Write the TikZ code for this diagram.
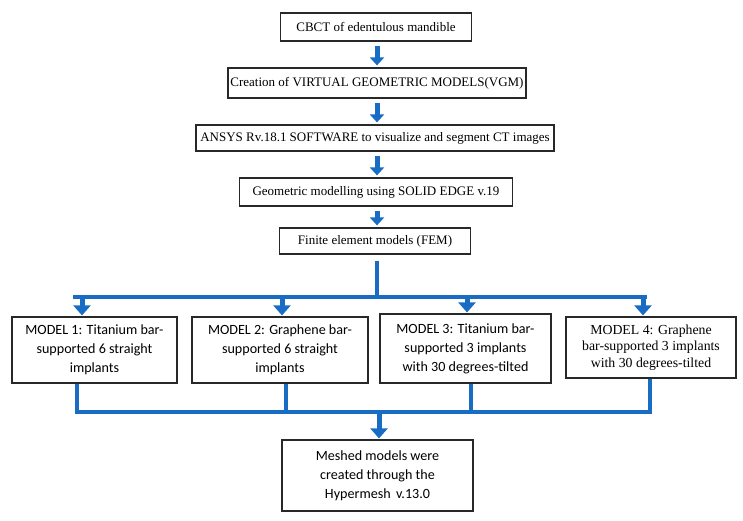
\documentclass[tikz,border=0pt]{standalone}
\usepackage{fontspec}
\setmainfont{Liberation Serif}
\newfontfamily\carlfont{Carlito}
\usetikzlibrary{arrows.meta}
\definecolor{flowblue}{RGB}{24,108,196}
\definecolor{boxline}{RGB}{40,40,40}
\tikzset{
  topbox/.style={draw=boxline, line width=1.2pt, inner sep=0pt, align=center, font=\fontsize{13}{15}\selectfont},
  modelbox/.style={draw=boxline, line width=1.2pt, inner sep=0pt, align=center, font=\carlfont\fontsize{14.1}{19}\selectfont},
  bluearrow/.style={draw=flowblue, line width=5pt, -{Triangle[width=14pt,length=8pt]}},
  bigarrow/.style={draw=flowblue, line width=5pt, -{Triangle[width=17pt,length=10pt]}},
  bus/.style={draw=flowblue, line width=4.5pt}
}
\begin{document}
\begin{tikzpicture}[x=1pt,y=-1pt]
\useasboundingbox (0,0) rectangle (743,520);
% top chain
\node[topbox, minimum width=191pt, minimum height=28pt] (b1) at (376,27) {CBCT of edentulous mandible};
\node[topbox, minimum width=298pt, minimum height=30pt] (b2) at (377,83) {Creation of VIRTUAL GEOMETRIC MODELS(VGM)};
\node[topbox, minimum width=358pt, minimum height=26pt] (b3) at (375,138) {ANSYS Rv.18.1 SOFTWARE to visualize and segment CT images};
\node[topbox, minimum width=273pt, minimum height=28pt] (b4) at (376,192) {Geometric modelling using SOLID EDGE v.19};
\node[topbox, minimum width=191pt, minimum height=26pt] (b5) at (375,241) {Finite element models (FEM)};
\foreach \a/\b in {b1/b2,b2/b3,b3/b4,b4/b5}{
  \draw[bluearrow, shorten <=4pt, shorten >=2pt] (\a.south -| 377,0) -- (\b.north -| 377,0);
}
% model boxes
\node[modelbox, minimum width=165pt, minimum height=66pt] (m1) at (94.5,350) {MODEL 1: Titanium bar-\\supported 6 straight\\implants};
\node[modelbox, minimum width=176pt, minimum height=66pt] (m2) at (280,350) {MODEL 2: Graphene bar-\\supported 6 straight\\implants};
\node[modelbox, minimum width=171pt, minimum height=69pt] (m3) at (465.5,348.5) {MODEL 3: Titanium bar-\\supported 3 implants\\with 30 degrees-tilted};
\node[modelbox, minimum width=170pt, minimum height=61pt, font=\fontsize{13.8}{16.5}\selectfont] (m4) at (651,347.5) {MODEL 4: Graphene\\bar-supported 3 implants\\with 30 degrees-tilted};
\node[modelbox, minimum width=191pt, minimum height=71pt] (m5) at (377.5,475.5) {Meshed models were\\created through the\\Hypermesh\, v.13.0};
% distribution bus
\coordinate (j0) at (377,297);
\coordinate (jl) at (73,297);
\coordinate (jr) at (647,297);
\coordinate (t1) at (82,297);
\coordinate (t2) at (282,297);
\coordinate (t3) at (467,297);
\coordinate (t4) at (643,297);
\draw[bus, shorten <=6pt] (b5.south -| j0) -- (j0);
\draw[bus] (jl) -- (jr);
\foreach \t/\m in {t1/m1,t2/m2,t3/m3,t4/m4}{
  \draw[bigarrow, shorten >=1pt] (\t) -- (\t |- \m.north);
}
% collecting bus
\coordinate (u1) at (77,412);
\coordinate (u2) at (286,412);
\coordinate (u3) at (471,412);
\coordinate (u4) at (650,412);
\coordinate (uc) at (379,412);
\foreach \u/\m in {u1/m1,u2/m2,u3/m3,u4/m4}{
  \draw[bus] (\u |- \m.south) -- (\u);
}
\draw[bus] ([xshift=-2.25pt]u1) -- ([xshift=2.25pt]u4);
\draw[bigarrow, shorten >=1pt] (uc) -- (uc |- m5.north);
\end{tikzpicture}
\end{document}
